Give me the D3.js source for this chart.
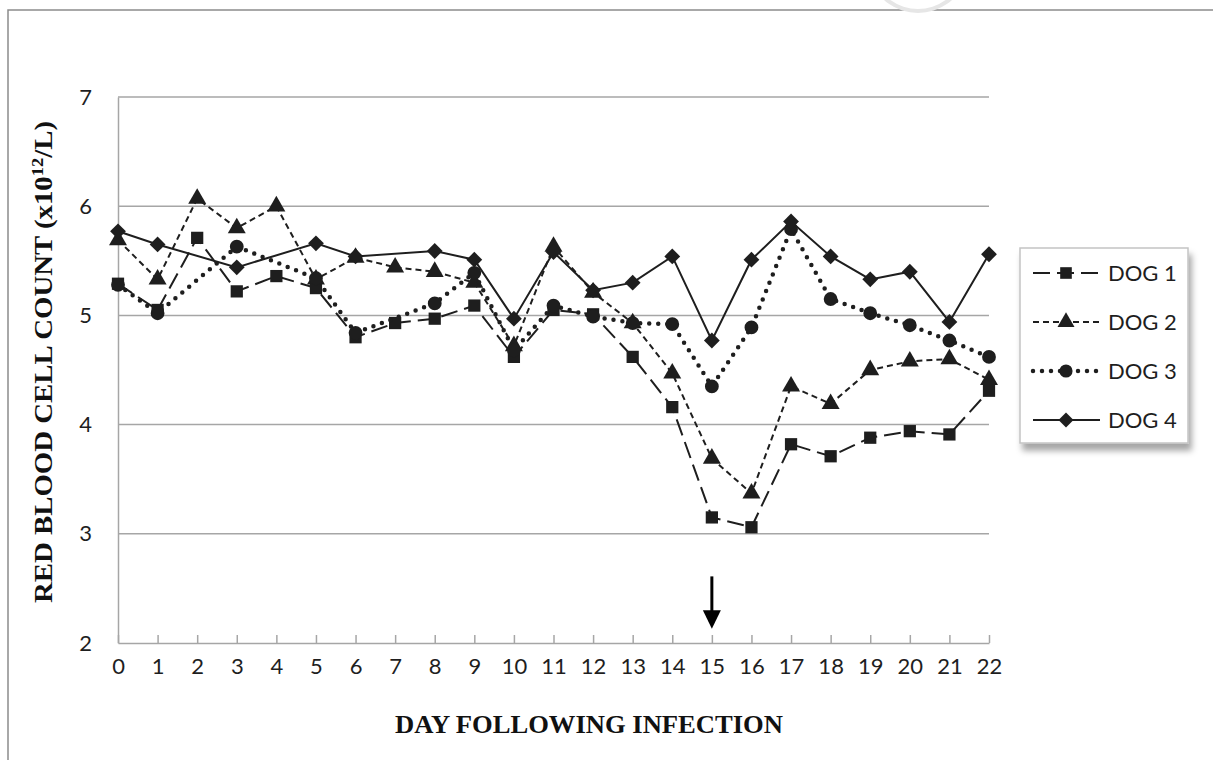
<!DOCTYPE html>
<html>
<head>
<meta charset="utf-8">
<script src="https://cdn.jsdelivr.net/npm/d3@7"></script>
<style>
  body { margin: 0; background: #fff; }
  svg { display: block; }
</style>
</head>
<body>
<svg id="chart" width="1213" height="760"></svg>
<script>
    "use strict";

    // days on the x axis
    var days = d3.range(0, 23);
    var yTicks = [2, 3, 4, 5, 6, 7];

    // RBC counts, null where no marker was drawn
    var dog1 = [5.29, 5.05, 5.71, 5.22, 5.36, 5.25, 4.80, 4.93, 4.97, 5.09, 4.62, 5.05,
                5.01, 4.62, 4.16, 3.15, 3.06, 3.82, 3.71, 3.88, 3.94, 3.91, 4.31];
    var dog2 = [5.69, 5.33, 6.07, 5.80, 6.00, 5.33, 5.53, 5.44, 5.40, 5.30, 4.72, 5.63,
                5.21, 4.93, 4.47, 3.69, 3.37, 4.35, 4.19, 4.50, 4.58, 4.60, 4.41];
    var dog3 = [5.28, 5.02, null, 5.63, null, 5.34, 4.84, null, 5.11, 5.39, 4.68, 5.09,
                4.99, 4.93, 4.92, 4.35, 4.89, 5.79, 5.15, 5.02, 4.91, 4.77, 4.62];
    var dog4 = [5.77, 5.65, null, 5.44, null, 5.66, 5.54, null, 5.59, 5.51, 4.97, 5.58,
                5.23, 5.30, 5.54, 4.77, 5.51, 5.86, 5.54, 5.33, 5.40, 4.94, 5.56];

    var seriesNames = ["DOG 1", "DOG 2", "DOG 3", "DOG 4"];
    var arrowDay = 15;

    var ink = "#1e1e1e";
    var series = [
        {name: seriesNames[0], values: dog1, dash: "17,7", width: 2, cap: "butt", symbol: d3.symbolSquare, size: 150, rot: 0},
        {name: seriesNames[1], values: dog2, dash: "6,4", width: 2, cap: "butt", symbol: d3.symbolTriangle, size: 140, rot: 0},
        {name: seriesNames[2], values: dog3, dash: "0,9", width: 4.5, cap: "round", symbol: d3.symbolCircle, size: 150, rot: 0},
        // diamond = square turned 45 degrees, like the Excel marker
        {name: seriesNames[3], values: dog4, dash: null, width: 2, cap: "butt", symbol: d3.symbolSquare, size: 125, rot: 45}
    ];

    var svg = d3.select("#chart");

    var x = d3.scaleLinear().domain([0, 22]).range([118, 989]);
    var y = d3.scaleLinear().domain([2, 7]).range([643, 97]);

    // outer frame of the figure
    svg.append("path")
        .attr("d", "M8,760V10H1213")
        .attr("fill", "none")
        .attr("stroke", "#8c8c8c")
        .attr("stroke-width", 1.5);
    // faint watermark ring cut by the top edge
    svg.append("path")
        .attr("d", d3.arc()({innerRadius: 47, outerRadius: 51, startAngle: Math.PI * 0.6, endAngle: Math.PI * 1.4}))
        .attr("transform", "translate(918,-38)")
        .attr("fill", "#e6e6e6");

    // gridlines
    svg.append("g")
        .selectAll("line")
        .data(yTicks.filter(function(t) { return t > 2; }))
        .join("line")
        .attr("x1", x(0)).attr("x2", x(22))
        .attr("y1", function(d) { return y(d); })
        .attr("y2", function(d) { return y(d); })
        .attr("stroke", "#a6a6a6")
        .attr("stroke-width", 1.5);

    // y axis
    var yAxis = svg.append("g")
        .attr("transform", "translate(" + x(0) + ",0)")
        .call(d3.axisLeft(y).tickValues(yTicks).tickSize(0).tickPadding(26).tickFormat(d3.format("d")));
    yAxis.select(".domain").attr("stroke", "#a6a6a6").attr("stroke-width", 1.5);

    // x axis, ticks point up into the plot
    var xAxis = svg.append("g")
        .attr("transform", "translate(0," + y(2) + ")")
        .call(d3.axisBottom(x).tickValues(days).tickSizeInner(-8).tickSizeOuter(0).tickPadding(15));
    xAxis.select(".domain").attr("stroke", "#a6a6a6").attr("stroke-width", 1.5);
    xAxis.selectAll(".tick line").attr("stroke", "#a6a6a6").attr("stroke-width", 1.5);

    svg.selectAll(".tick text")
        .attr("fill", "#1e1e1e")
        .style("font-family", "Lato, 'Open Sans', sans-serif")
        .style("font-size", "22px");

    // axis titles
    svg.append("text")
        .attr("x", 589).attr("y", 733)
        .attr("text-anchor", "middle")
        .attr("textLength", 388)
        .attr("lengthAdjust", "spacingAndGlyphs")
        .style("font-family", "'Liberation Serif', 'Times New Roman', serif")
        .style("font-weight", "bold")
        .style("font-size", "25px")
        .attr("fill", "#111")
        .text("DAY FOLLOWING INFECTION");

    var ytitle = svg.append("text")
        .attr("transform", "translate(52,362) rotate(-90)")
        .attr("text-anchor", "middle")
        .attr("textLength", 482)
        .attr("lengthAdjust", "spacingAndGlyphs")
        .style("font-family", "'Liberation Serif', 'Times New Roman', serif")
        .style("font-weight", "bold")
        .style("font-size", "25px")
        .attr("fill", "#111");
    ytitle.append("tspan").text("RED BLOOD CELL COUNT (x10");
    ytitle.append("tspan").attr("dy", -9).style("font-size", "16px").text("12");
    ytitle.append("tspan").attr("dy", 9).text("/L)");

    // series lines; empty days are bridged like the original
    var line = d3.line()
        .x(function(d) { return x(d.day); })
        .y(function(d) { return y(d.value); });

    function points(values) {
        return values.map(function(v, i) { return {day: days[i], value: v}; })
            .filter(function(d) { return d.value !== null; });
    }

    series.forEach(function(s) {
        var pts = points(s.values);
        var g = svg.append("g");
        g.append("path")
            .attr("d", line(pts))
            .attr("fill", "none")
            .attr("stroke", ink)
            .attr("stroke-width", s.width)
            .attr("stroke-linecap", s.cap)
            .attr("stroke-dasharray", s.dash);
        g.selectAll(".mark")
            .data(pts)
            .join("path")
            .attr("class", "mark")
            .attr("transform", function(d) {
                return "translate(" + x(d.day) + "," + y(d.value) + ") rotate(" + s.rot + ")";
            })
            .attr("d", d3.symbol().type(s.symbol).size(s.size))
            .attr("fill", ink);
    });

    // arrow marking day 15
    var ax = x(arrowDay);
    svg.append("line")
        .attr("x1", ax).attr("x2", ax)
        .attr("y1", y(2.61)).attr("y2", y(2.29))
        .attr("stroke", "#000")
        .attr("stroke-width", 3);
    svg.append("path")
        .attr("d", "M" + (ax - 9) + "," + y(2.3) + "L" + (ax + 9) + "," + y(2.3) + "L" + ax + "," + y(2.13) + "Z")
        .attr("fill", "#000");

    // legend
    var defs = svg.append("defs");
    var shadow = defs.append("filter").attr("id", "shadow")
        .attr("x", "-20%").attr("y", "-20%").attr("width", "150%").attr("height", "150%");
    shadow.append("feDropShadow")
        .attr("dx", 3).attr("dy", 7).attr("stdDeviation", 3)
        .attr("flood-color", "#000").attr("flood-opacity", 0.35);

    var legend = svg.append("g").attr("transform", "translate(1020,248)");
    legend.append("rect")
        .attr("width", 168).attr("height", 195)
        .attr("fill", "#fff")
        .attr("stroke", "#c4c4c4")
        .attr("stroke-width", 1.5)
        .attr("filter", "url(#shadow)");

    var item = legend.selectAll(".item")
        .data(series)
        .join("g")
        .attr("class", "item")
        .attr("transform", function(d, i) { return "translate(0," + (25 + i * 49) + ")"; });
    item.append("line")
        .attr("x1", 13).attr("x2", 80)
        .attr("stroke", ink)
        .attr("stroke-width", function(d) { return d.width; })
        .attr("stroke-linecap", function(d) { return d.cap; })
        .attr("stroke-dasharray", function(d) { return d.dash; });
    item.append("path")
        .attr("transform", function(d) { return "translate(46,0) rotate(" + d.rot + ")"; })
        .attr("d", function(d) { return d3.symbol().type(d.symbol).size(d.size * 0.9)(); })
        .attr("fill", ink);
    item.append("text")
        .attr("x", 88).attr("dy", "0.36em")
        .style("font-family", "Lato, 'Open Sans', sans-serif")
        .style("font-size", "22px")
        .attr("fill", "#1e1e1e")
        .text(function(d) { return d.name; });
</script>
</body>
</html>
